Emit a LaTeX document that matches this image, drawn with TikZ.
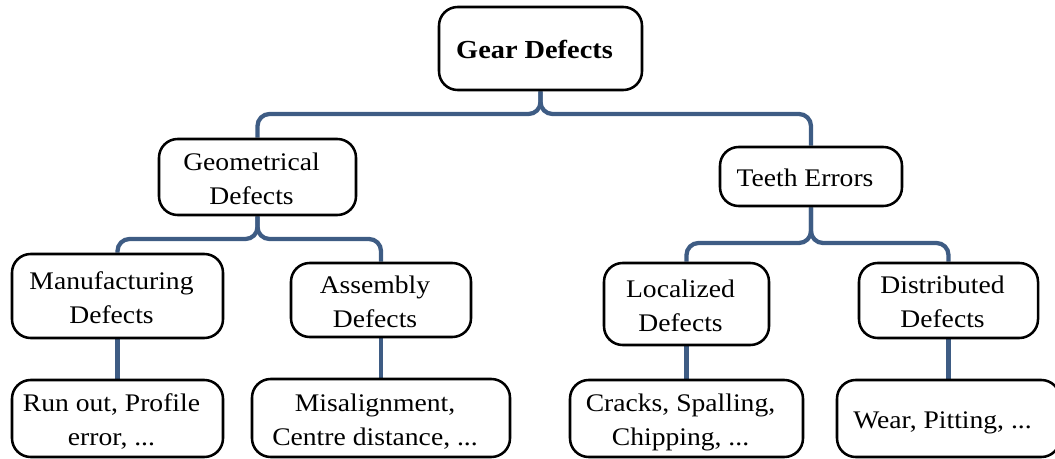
\documentclass[tikz,border=0pt]{standalone}
\usepackage{fontspec}
\setmainfont{Liberation Serif}[FakeStretch=1.09]
\usetikzlibrary{backgrounds}
\definecolor{link}{RGB}{62,92,132}
% centred label, set a little left of and below the box centre
\newcommand\lbl[1]{\raisebox{-2.5pt}[\height][\depth]{\begin{tabular}{@{}c@{}}#1\end{tabular}}\kern9pt}
\begin{document}
\begin{tikzpicture}[x=0.75pt,y=-0.75pt,
  box/.style={draw=black, line width=1.9pt, rounded corners=14pt, fill=white,
    inner sep=0pt, font=\fontsize{19}{25.5}\selectfont},
  dim/.style 2 args={minimum width=#1*0.75pt, minimum height=#2*0.75pt},
  conn/.style={draw=link, line width=3.2pt, rounded corners=9pt},
]
\useasboundingbox (0,0) rectangle (1055,459);
\clip (0,0) rectangle (1055,459);

% boxes
\node[box, dim={203}{83}] (gear) at (540.5,48.5)
  {\lbl{\fontsize{19.5}{25.5}\selectfont\bfseries Gear Defects}};
\node[box, dim={197}{76}] (geom)   at (257.5,177)   {\lbl{Geometrical\\Defects}};
\node[box, dim={182}{59}] (teeth)  at (811,176.5)   {\lbl{Teeth Errors}};
\node[box, dim={211}{84}] (manuf)  at (117.5,296)   {\lbl{Manufacturing\\Defects}};
\node[box, dim={180}{74}] (assem)  at (381,300)     {\lbl{Assembly\\Defects}};
\node[box, dim={165}{82}] (local)  at (686.5,304)   {\lbl{Localized\\Defects}};
\node[box, dim={179}{75}] (distr)  at (948.5,300.5) {\lbl{Distributed\\Defects}};
\node[box, dim={211}{77}] (runout) at (117.5,418.5) {\lbl{Run out, Profile\\error, ...}};
\node[box, dim={258}{78}] (misal)  at (381,418)     {\lbl{Misalignment,\\Centre distance, ...}};
\node[box, dim={233}{77}] (crack)  at (686.5,418.5) {\lbl{Cracks, Spalling,\\Chipping, ...}};
\node[box, dim={223}{77}] (wear)   at (948.5,418.5) {\lbl{Wear, Pitting, ...}};

% heights of the brace bars
\coordinate (barA) at (0,114);
\coordinate (barB) at (0,239);
\coordinate (barC) at (0,243);

\begin{pgfonlayer}{background}
  % top brace
  \draw[conn] (gear.south) -- (gear.south |- barA) -- (geom.north |- barA) -- (geom.north);
  \draw[conn] (gear.south) -- (gear.south |- barA) -- (teeth.north |- barA) -- (teeth.north);
  % geometrical defects brace
  \draw[conn] (geom.south) -- (geom.south |- barB) -- (manuf.north |- barB) -- (manuf.north);
  \draw[conn] (geom.south) -- (geom.south |- barB) -- (assem.north |- barB) -- (assem.north);
  % teeth errors brace
  \draw[conn] (teeth.south) -- (teeth.south |- barC) -- (local.north |- barC) -- (local.north);
  \draw[conn] (teeth.south) -- (teeth.south |- barC) -- (distr.north |- barC) -- (distr.north);
  % leaves
  \draw[conn] (manuf.south) -- (runout.north);
  \draw[conn] (assem.south) -- (misal.north);
  \draw[conn] (local.south) -- (crack.north);
  \draw[conn] (distr.south) -- (wear.north);
\end{pgfonlayer}
\end{tikzpicture}
\end{document}
